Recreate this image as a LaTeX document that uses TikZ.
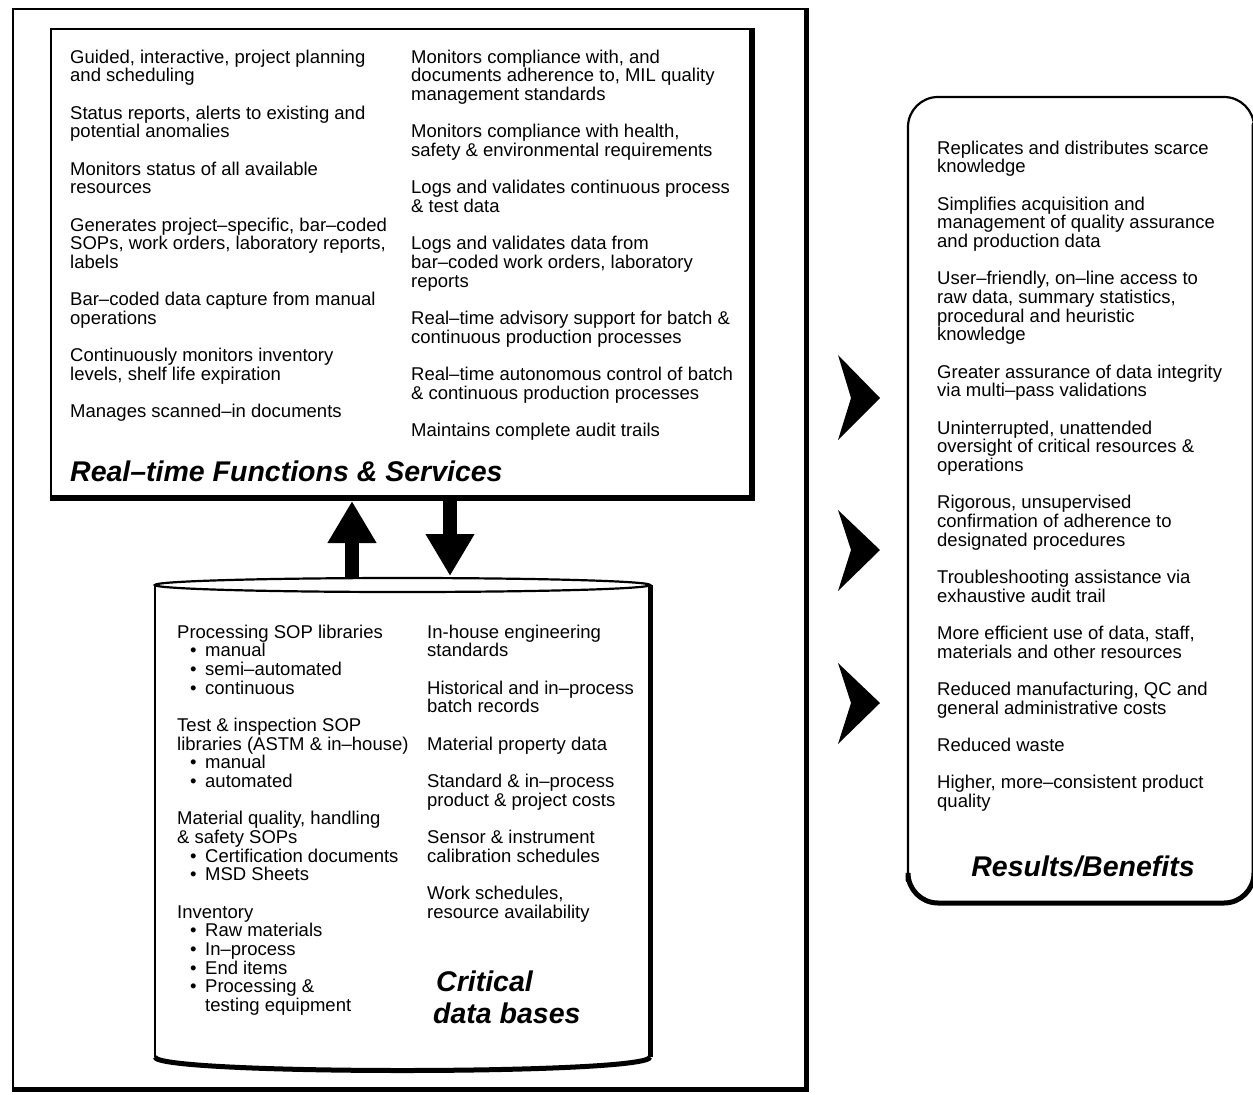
\documentclass[tikz,border=0pt]{standalone}
\usepackage{fontspec}
\setmainfont{Liberation Sans}
\usetikzlibrary{arrows.meta}
\newcommand\bl{\hspace*{13pt}\makebox[15pt][l]{\textbullet}}
\newcommand\sep{\\[18.7pt]}
\newcommand\st{\rule{0pt}{14pt}}
\begin{document}
\begin{tikzpicture}[x=1pt,y=-1pt,
  txt/.style={anchor=north west, inner sep=0pt, align=left, font=\fontsize{18.5}{18.65}\selectfont},
  ttl/.style={inner sep=0pt, font=\fontsize{28.5}{32}\selectfont\bfseries\itshape},
  thinline/.style={line width=2.2pt},
  thickline/.style={line width=6pt},
  fatarrow/.style={line width=14pt, -{Triangle[length=42pt,width=46pt]}},
  chev/.style={fill=black}]
\useasboundingbox (0,0) rectangle (1253,1095);
\fill[white] (0,0) rectangle (1253,1095);

% outer frame
\node[draw, thinline, minimum width=792pt, minimum height=1079pt, anchor=north west, inner sep=0pt] (frame) at (12,8) {};
\draw[line width=5pt] (frame.north east) -- (frame.south east) -- (frame.south west);

% top box
\node[draw, thinline, minimum width=700pt, minimum height=468pt, anchor=north west, inner sep=0pt] (rtbox) at (50,28) {};
\draw[thickline] (rtbox.north east) -- (rtbox.south east) -- (rtbox.south west);

% cylinder
\coordinate (cylTL) at (155,585);
\coordinate (cylTR) at (650,585);
\coordinate (cylBL) at (155,1057);
\coordinate (cylBR) at (650,1057);
\draw[thinline] (402.5,585) ellipse [x radius=247.5, y radius=7];
\draw[thinline] (cylTL) -- (cylBL);
\draw[line width=5pt] (cylTR) -- (cylBR);
\draw[line width=5pt] (cylBL) .. controls (155,1075) and (650,1075) .. (cylBR);

% arrows between box and cylinder
\coordinate (upfrom) at (352,578);
\coordinate (upto) at (352,501);
\coordinate (dnfrom) at (450,499);
\coordinate (dnto) at (450,576);
\draw[fatarrow] (upfrom) -- (upto);
\draw[fatarrow] (dnfrom) -- (dnto);

% chevrons
\fill[chev] (838,355) -- (880,398) -- (838,440) -- (851,398) -- cycle;
\fill[chev] (838,510) -- (880,550) -- (838,591) -- (851,550) -- cycle;
\fill[chev] (838,663) -- (880,703) -- (838,744) -- (851,703) -- cycle;

% results box
\draw[line width=2.2pt, rounded corners=30pt] (908,97) rectangle (1254,903);
\draw[line width=5pt, line cap=round, rounded corners=30pt] (1254,125) -- (1254,903) -- (908,903) -- (908,880);

% texts top box
\node[txt] (tl) at (70,49) {\st Guided, interactive, project planning\\
and scheduling\sep
Status reports, alerts to existing and\\
potential anomalies\sep
Monitors status of all available\\
resources\sep
Generates project–specific, bar–coded\\
SOPs, work orders, laboratory reports,\\
labels\sep
Bar–coded data capture from manual\\
operations\sep
Continuously monitors inventory\\
levels, shelf life expiration\sep
Manages scanned–in documents};

\node[txt] (tr) at (411,49) {\st Monitors compliance with, and\\
documents adherence to, MIL quality\\
management standards\sep
Monitors compliance with health,\\
safety \& environmental requirements\sep
Logs and validates continuous process\\
\& test data\sep
Logs and validates data from\\
bar–coded work orders, laboratory\\
reports\sep
Real–time advisory support for batch \&\\
continuous production processes\sep
Real–time autonomous control of batch\\
\& continuous production processes\sep
Maintains complete audit trails};

\node[ttl, anchor=base west] (rttitle) at (70,481) {Real–time Functions \& Services};

% texts cylinder
\node[txt] (cl) at (177,624) {\st Processing SOP libraries\\
\bl manual\\
\bl semi–automated\\
\bl continuous\sep
Test \& inspection SOP\\
libraries (ASTM \& in–house)\\
\bl manual\\
\bl automated\sep
Material quality, handling\\
\& safety SOPs\\
\bl Certification documents\\
\bl MSD Sheets\sep
Inventory\\
\bl Raw materials\\
\bl In–process\\
\bl End items\\
\bl Processing \&\\
\hspace*{28pt}testing equipment};

\node[txt] (cr) at (427,624) {\st In-house engineering\\
standards\sep
Historical and in–process\\
batch records\sep
Material property data\sep
Standard \& in–process\\
product \& project costs\sep
Sensor \& instrument\\
calibration schedules\sep
Work schedules,\\
resource availability};

\node[ttl, anchor=base west] (crit1) at (436,991) {Critical};
\node[ttl, anchor=base west] (crit2) at (433,1023) {data bases};

% texts results box
\node[txt] (rb) at (937,140) {\st Replicates and distributes scarce\\
knowledge\sep
Simplifies acquisition and\\
management of quality assurance\\
and production data\sep
User–friendly, on–line access to\\
raw data, summary statistics,\\
procedural and heuristic\\
knowledge\sep
Greater assurance of data integrity\\
via multi–pass validations\sep
Uninterrupted, unattended\\
oversight of critical resources \&\\
operations\sep
Rigorous, unsupervised\\
confirmation of adherence to\\
designated procedures\sep
Troubleshooting assistance via\\
exhaustive audit trail\sep
More efficient use of data, staff,\\
materials and other resources\sep
Reduced manufacturing, QC and\\
general administrative costs\sep
Reduced waste\sep
Higher, more–consistent product\\
quality};

\node[ttl, anchor=base] (rbtitle) at (1083,876) {Results/Benefits};
\end{tikzpicture}
\end{document}
